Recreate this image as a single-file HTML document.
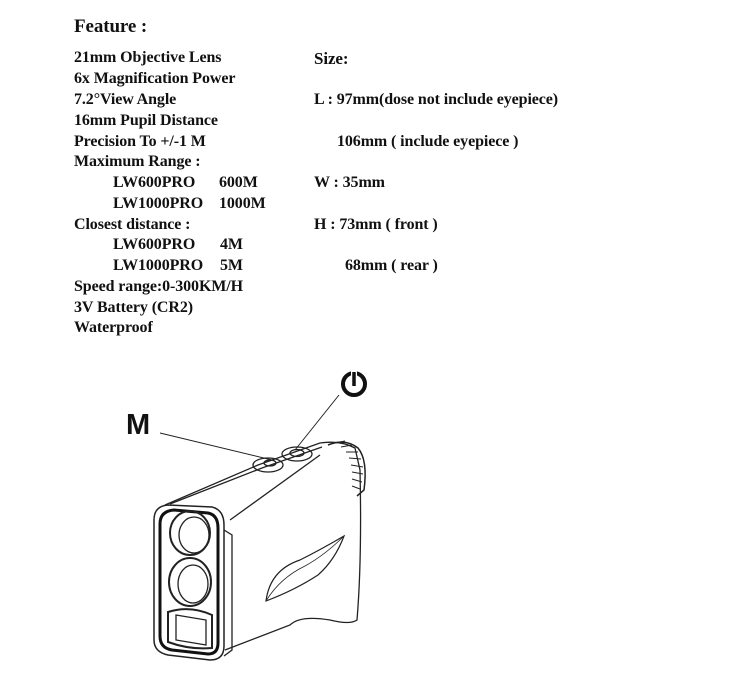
<!DOCTYPE html>
<html><head><meta charset="utf-8"><style>
body{margin:0;width:743px;height:682px;background:#fff;position:relative;overflow:hidden;font-family:"Liberation Serif",serif;font-weight:bold;color:#111}
.t{position:absolute;font-size:16px;white-space:nowrap;line-height:1;letter-spacing:-0.1px}
</style></head><body>
<div class="t" style="left:74px;top:17px;font-size:19px">Feature :</div>
<div class="t" style="left:74px;top:50px">21mm Objective Lens</div>
<div class="t" style="left:74px;top:71px">6x Magnification Power</div>
<div class="t" style="left:74px;top:92px">7.2°View Angle</div>
<div class="t" style="left:74px;top:113px">16mm Pupil Distance</div>
<div class="t" style="left:74px;top:134px">Precision To +/-1 M</div>
<div class="t" style="left:74px;top:154px">Maximum Range :</div>
<div class="t" style="left:113px;top:175px">LW600PRO</div><div class="t" style="left:219px;top:175px">600M</div>
<div class="t" style="left:113px;top:196px">LW1000PRO</div><div class="t" style="left:219px;top:196px">1000M</div>
<div class="t" style="left:74px;top:217px">Closest distance :</div>
<div class="t" style="left:113px;top:237px">LW600PRO</div><div class="t" style="left:220px;top:237px">4M</div>
<div class="t" style="left:113px;top:258px">LW1000PRO</div><div class="t" style="left:220px;top:258px">5M</div>
<div class="t" style="left:74px;top:279px">Speed range:0-300KM/H</div>
<div class="t" style="left:74px;top:300px">3V Battery (CR2)</div>
<div class="t" style="left:74px;top:320px">Waterproof</div>
<div class="t" style="left:314px;top:50px;font-size:17px">Size:</div>
<div class="t" style="left:314px;top:92px">L : 97mm(dose not include eyepiece)</div>
<div class="t" style="left:337px;top:134px">106mm ( include eyepiece )</div>
<div class="t" style="left:314px;top:175px">W : 35mm</div>
<div class="t" style="left:314px;top:217px">H : 73mm ( front )</div>
<div class="t" style="left:345px;top:258px">68mm ( rear )</div>
<svg style="position:absolute;left:0;top:0" width="743" height="682" viewBox="0 0 743 682" fill="none" stroke="#222" stroke-width="1.3">
<text x="126" y="434" font-family="Liberation Sans,sans-serif" font-weight="bold" font-size="29" fill="#111" stroke="none">M</text>
<circle cx="354" cy="384" r="11" stroke="#111" stroke-width="4"/>
<line x1="354" y1="370" x2="354" y2="386" stroke="#fff" stroke-width="6"/>
<line x1="354" y1="372" x2="354" y2="386" stroke="#111" stroke-width="3.5"/>
<line x1="160" y1="433" x2="272" y2="460" stroke-width="1"/>
<line x1="339" y1="395" x2="295" y2="450" stroke-width="1"/>
<path d="M165 505 L258 465 L320 443 Q340 440 355 448 L360 470 Q362 560 357 620 Q350 625 330 620 Q300 615 290 625 L225 650"/>
<path d="M170 504 L262 468 L322 447"/>
<path d="M230 520 L320 455"/>
<path d="M328 445 Q345 438 358 448 Q368 460 364 490 L357 496" stroke-width="1.5"/>
<path d="M335 443 L345 441 M341 447 L352 445 M346 452 L358 452 M349 458 L361 459 M351 465 L363 467 M352 472 L363 474 M352 479 L362 482 M352 486 L360 489" stroke-width="1"/>
<ellipse cx="297" cy="454" rx="15" ry="7"/><ellipse cx="297" cy="453" rx="7" ry="3.5"/>
<ellipse cx="268" cy="465" rx="15" ry="7"/><ellipse cx="270" cy="463" rx="6" ry="3"/>
<path d="M168 505 Q154 506 154 520 L154 640 Q154 652 168 655 L210 660 Q224 660 224 646 L224 525 Q224 510 212 507 Z" stroke-width="1.5"/>
<path d="M174 510 Q160 511 160 524 L160 636 Q160 648 172 650 L208 654 Q218 654 218 643 L218 528 Q218 515 208 513 Z" stroke-width="3" stroke="#111"/>
<ellipse cx="190" cy="533" rx="20" ry="22" stroke-width="2"/>
<ellipse cx="194" cy="535" rx="15" ry="18"/>
<ellipse cx="190" cy="582" rx="21" ry="24" stroke-width="2"/>
<ellipse cx="193" cy="584" rx="15" ry="19"/>
<path d="M168 612 Q190 605 212 615 L212 648 Q190 650 168 642 Z" stroke-width="2"/>
<path d="M176 615 L206 620 L206 645 L176 640 Z"/>
<path d="M224 530 L232 535 L232 650 L224 656"/>
<path d="M266 601 Q270 570 300 560 Q320 550 344 536 Q335 560 318 575 Q295 590 266 601 Z" stroke-width="1.2" fill="#fff"/>
<path d="M266 601 Q280 578 305 566 Q325 555 344 536" stroke-width="0.8"/>
</svg>
</body></html>
